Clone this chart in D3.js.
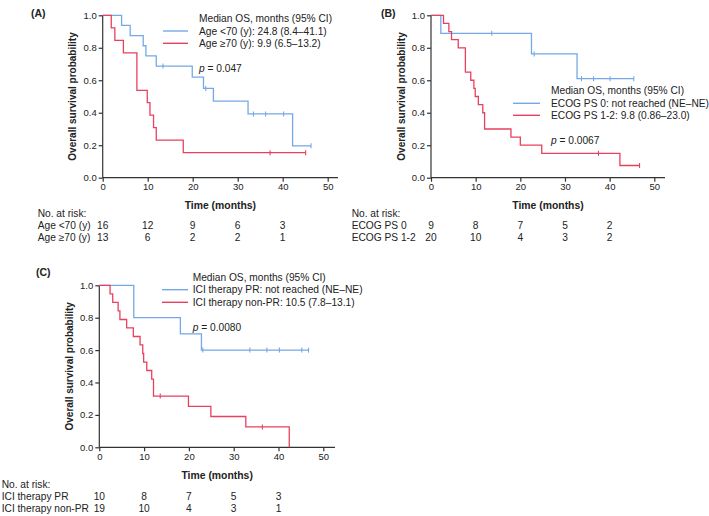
<!DOCTYPE html>
<html>
<head>
<meta charset="utf-8">
<script src="https://cdn.jsdelivr.net/npm/d3@7"></script>
<style>
  html, body { margin: 0; padding: 0; background: #fff; }
  svg { display: block; font-family: "Liberation Sans", Arial, sans-serif; }
</style>
</head>
<body>
<svg id="chart" width="709" height="516"></svg>
<script>
// ---------- data ----------
const timeTicks = [0, 10, 20, 30, 40, 50];
const probTicks = [0, 0.2, 0.4, 0.6, 0.8, 1.0];
const riskTimes = [0, 10, 20, 30, 40];

// Panel A: age
const aYoungTimes = [0, 4.2, 6.1, 9.0, 9.6, 11.9, 19.9, 22.4, 24.6, 32.3, 42.2, 46.3];
const aYoungSurv  = [1, 0.9375, 0.875, 0.8125, 0.75, 0.6875, 0.619, 0.55, 0.471, 0.393, 0.196, 0.196];
const aYoungCens  = [13.4, 22.9, 33.5, 36.2, 40.2, 46.3];
const aOldTimes   = [0, 1.9, 2.7, 4.6, 7.6, 9.9, 10.5, 11.3, 11.9, 17.9, 45.1];
const aOldSurv    = [1, 0.923, 0.846, 0.769, 0.538, 0.462, 0.385, 0.308, 0.231, 0.154, 0.154];
const aOldCens    = [37.2, 45.1];
const aLegend     = ["Age <70 (y): 24.8 (8.4\u201341.1)", "Age \u226570 (y): 9.9 (6.5\u201313.2)"];
const aP          = "0.047";
const aRiskLabels = ["Age <70 (y)", "Age \u226570 (y)"];
const aRiskYoung  = [16, 12, 9, 6, 3];
const aRiskOld    = [13, 6, 2, 2, 1];

// Panel B: ECOG PS
const bPs0Times  = [0, 2.2, 22.5, 32.7, 45.4];
const bPs0Surv   = [1, 0.889, 0.762, 0.610, 0.610];
const bPs0Cens   = [13.6, 23.1, 33.7, 36.4, 40.1, 45.4];
const bPs12Times = [0, 2.8, 4.0, 4.6, 6.1, 7.7, 8.9, 9.6, 9.9, 10.6, 11.6, 12.0, 17.9, 20.0, 24.8, 42.3, 46.7];
const bPs12Surv  = [1, 0.95, 0.9, 0.85, 0.8, 0.65, 0.6, 0.55, 0.5, 0.45, 0.4, 0.3, 0.25, 0.2, 0.15, 0.075, 0.075];
const bPs12Cens  = [37.5, 46.7];
const bLegend    = ["ECOG PS 0: not reached (NE\u2013NE)", "ECOG PS 1-2: 9.8 (0.86\u201323.0)"];
const bP         = "0.0067";
const bRiskLabels = ["ECOG PS 0", "ECOG PS 1-2"];
const bRiskPs0   = [9, 8, 7, 5, 2];
const bRiskPs12  = [20, 10, 4, 3, 2];

// Panel C: ICI therapy response
const cPrTimes   = [0, 7.7, 18.1, 22.8, 46.7];
const cPrSurv    = [1, 0.8, 0.7, 0.6, 0.6];
const cPrCens    = [23.1, 33.6, 37.4, 40.2, 45.2, 46.7];
const cNonTimes  = [0, 2.4, 3.0, 4.2, 4.6, 6.1, 7.6, 9.1, 9.7, 9.9, 10.6, 11.7, 12.1, 19.9, 24.9, 32.7, 42.4];
const cNonSurv   = [1, 0.947, 0.895, 0.842, 0.789, 0.737, 0.684, 0.632, 0.579, 0.526, 0.474, 0.421, 0.316, 0.253, 0.19, 0.126, 0];
const cNonCens   = [13.6, 36.4];
const cLegend    = ["ICI therapy PR: not reached (NE\u2013NE)", "ICI therapy non-PR: 10.5 (7.8\u201313.1)"];
const cP         = "0.0080";
const cRiskLabels = ["ICI therapy PR", "ICI therapy non-PR"];
const cRiskPr    = [10, 8, 7, 5, 3];
const cRiskNon   = [19, 10, 4, 3, 1];

const legendTitle = "Median OS, months (95% CI)";
const BLUE = "#74a9e8";
const RED = "#e8405f";
const INK = "#222";

// ---------- drawing ----------
const svg = d3.select("#chart");

function zip(ts, ss) { return ts.map((t, i) => ({ t, s: ss[i] })); }
function survAt(ts, ss, t) {
  let v = ss[0];
  for (let i = 0; i < ts.length; i++) if (ts[i] <= t) v = ss[i];
  return v;
}

function panel(cfg) {
  const g = svg.append("g");
  const x = d3.scaleLinear().domain([0, 50]).range([cfg.x0, cfg.x50]);
  const y = d3.scaleLinear().domain([0, 1]).range([cfg.y0, cfg.y1]);

  // axes
  const xAxis = d3.axisBottom(x).tickValues(timeTicks).tickSize(4).tickPadding(2).tickFormat(d3.format("d"));
  const gx = g.append("g").attr("transform", `translate(0,${cfg.y0})`).call(xAxis);
  gx.select(".domain").attr("d", `M${cfg.x0},0H${cfg.xEnd}`);
  const yAxis = d3.axisLeft(y).tickValues(probTicks).tickSize(4).tickPadding(2).tickFormat(d3.format(".1f"));
  const gy = g.append("g").attr("transform", `translate(${cfg.x0},0)`).call(yAxis);
  gy.select(".domain").attr("d", `M0,${cfg.y0}V${cfg.y1}`);
  [gx, gy].forEach(a => {
    a.selectAll(".domain, line").attr("stroke", "#333").attr("stroke-width", 1.2);
    a.selectAll("text").attr("fill", INK).attr("font-size", "9.5px")
      .attr("font-family", "'Liberation Sans', Arial, sans-serif");
  });

  // axis titles
  g.append("text").attr("x", (cfg.x0 + cfg.xEnd) / 2).attr("y", cfg.y0 + 28)
    .attr("text-anchor", "middle").attr("dominant-baseline", "central")
    .attr("font-size", "10.4px").attr("font-weight", "bold").attr("fill", INK)
    .text("Time (months)");
  g.append("text")
    .attr("transform", `translate(${cfg.x0 - 30},${(cfg.y0 + cfg.y1) / 2}) rotate(-90)`)
    .attr("text-anchor", "middle").attr("dominant-baseline", "central")
    .attr("font-size", "10px").attr("font-weight", "bold").attr("fill", INK)
    .text("Overall survival probability");

  // panel label
  g.append("text").attr("x", cfg.labelX).attr("y", cfg.labelY)
    .attr("dominant-baseline", "central").attr("font-size", "10.5px").attr("font-weight", "bold")
    .attr("fill", INK).text(cfg.label);

  // curves (blue first, red on top)
  const line = d3.line().x(d => x(d.t)).y(d => y(d.s)).curve(d3.curveStepAfter);
  cfg.series.forEach(s => {
    g.append("path").datum(zip(s.times, s.surv))
      .attr("fill", "none").attr("stroke", s.color).attr("stroke-width", 1.3)
      .attr("d", line);
    g.selectAll(null).data(s.cens).enter().append("line")
      .attr("x1", d => x(d)).attr("x2", d => x(d))
      .attr("y1", d => y(survAt(s.times, s.surv, d)) - 2.5)
      .attr("y2", d => y(survAt(s.times, s.surv, d)) + 2.5)
      .attr("stroke", s.color).attr("stroke-width", 1.1);
  });

  // legend
  const L = cfg.legend;
  g.append("text").attr("x", L.tx).attr("y", L.y0).attr("dominant-baseline", "central")
    .attr("font-size", "10.2px").attr("fill", INK).text(legendTitle);
  cfg.series.forEach((s, i) => {
    const yy = L.rows[i];
    g.append("line").attr("x1", L.lx1).attr("x2", L.lx2).attr("y1", yy).attr("y2", yy)
      .attr("stroke", s.color).attr("stroke-width", 1.4);
    g.append("text").attr("x", L.tx).attr("y", yy).attr("dominant-baseline", "central")
      .attr("font-size", "10.2px").attr("fill", INK).text(cfg.legendLabels[i]);
  });
  const pt = g.append("text").attr("x", L.tx).attr("y", L.py).attr("dominant-baseline", "central")
    .attr("font-size", "10.2px").attr("fill", INK);
  pt.append("tspan").attr("font-style", "italic").text("p");
  pt.append("tspan").text(" = " + cfg.p);

  // risk table
  const R = cfg.risk;
  g.append("text").attr("x", R.x).attr("y", R.y0).attr("dominant-baseline", "central")
    .attr("font-size", "10.2px").attr("fill", INK).text("No. at risk:");
  R.labels.forEach((lab, i) => {
    g.append("text").attr("x", R.x).attr("y", R.rows[i]).attr("dominant-baseline", "central")
      .attr("font-size", "10.2px").attr("fill", INK).text(lab);
    g.selectAll(null).data(R.counts[i]).enter().append("text")
      .attr("x", (d, j) => x(riskTimes[j])).attr("y", R.rows[i])
      .attr("text-anchor", "middle").attr("dominant-baseline", "central")
      .attr("font-size", "10.2px").attr("fill", INK).text(d => d);
  });
}

panel({
  label: "(A)", labelX: 31, labelY: 13,
  x0: 102.7, x50: 327.7, xEnd: 338, y1: 15.3, y0: 177.7,
  series: [
    { times: aYoungTimes, surv: aYoungSurv, cens: aYoungCens, color: BLUE },
    { times: aOldTimes, surv: aOldSurv, cens: aOldCens, color: RED }
  ],
  legendLabels: aLegend, p: aP,
  legend: { tx: 199, y0: 18.3, rows: [31, 43.3], lx1: 163, lx2: 188, py: 68.3 },
  risk: { x: 37.7, y0: 213.3, rows: [225.7, 237.7], labels: aRiskLabels, counts: [aRiskYoung, aRiskOld] }
});

panel({
  label: "(B)", labelX: 381, labelY: 13,
  x0: 431, x50: 654.3, xEnd: 665, y1: 15.3, y0: 177.7,
  series: [
    { times: bPs0Times, surv: bPs0Surv, cens: bPs0Cens, color: BLUE },
    { times: bPs12Times, surv: bPs12Surv, cens: bPs12Cens, color: RED }
  ],
  legendLabels: bLegend, p: bP,
  legend: { tx: 551, y0: 90.7, rows: [103.3, 115.3], lx1: 513, lx2: 540, py: 140 },
  risk: { x: 351.7, y0: 213.3, rows: [225.7, 237.7], labels: bRiskLabels, counts: [bRiskPs0, bRiskPs12] }
});

panel({
  label: "(C)", labelX: 36, labelY: 271.7,
  x0: 99.3, x50: 323.3, xEnd: 335, y1: 285.3, y0: 447.3,
  series: [
    { times: cPrTimes, surv: cPrSurv, cens: cPrCens, color: BLUE },
    { times: cNonTimes, surv: cNonSurv, cens: cNonCens, color: RED }
  ],
  legendLabels: cLegend, p: cP,
  legend: { tx: 192.7, y0: 277.7, rows: [289.7, 302.3], lx1: 162, lx2: 188, py: 326.7 },
  risk: { x: 1.7, y0: 484.3, rows: [496, 508.3], labels: cRiskLabels, counts: [cRiskPr, cRiskNon] }
});
</script>
</body>
</html>
